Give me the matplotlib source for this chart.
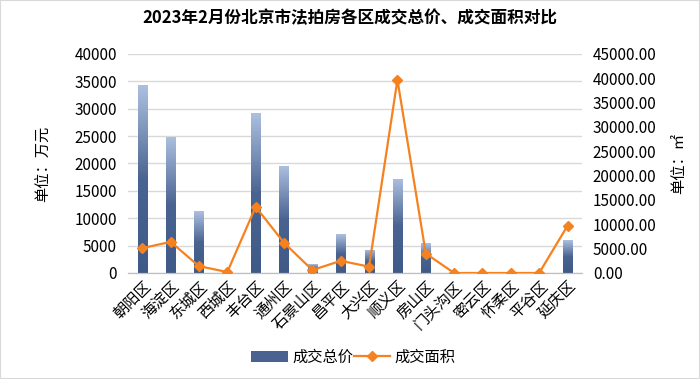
import numpy as np
import matplotlib
matplotlib.use('Agg')
import matplotlib.pyplot as plt
from matplotlib.ticker import FormatStrFormatter
from matplotlib.lines import Line2D
from matplotlib.patches import Patch, Rectangle
from matplotlib.colors import LinearSegmentedColormap

plt.rcParams['font.family'] = ['Noto Sans CJK SC', 'DejaVu Sans']

districts = ['朝阳区', '海淀区', '东城区', '西城区', '丰台区', '通州区', '石景山区', '昌平区',
             '大兴区', '顺义区', '房山区', '门头沟区', '密云区', '怀柔区', '平谷区', '延庆区']
total_price = [34300, 24900, 11300, 250, 29200, 19600, 1600, 7100,
               4200, 17200, 5400, 0, 0, 0, 0, 6000]
total_area = [5100, 6400, 1400, 200, 13600, 6200, 600, 2500,
              1300, 39700, 4000, 0, 0, 0, 0, 9700]

fig = plt.figure(figsize=(7, 3.79), dpi=100)
ax = fig.add_axes([0.183, 0.2797, 0.648, 0.578])
ax2 = ax.twinx()

x = np.arange(len(districts))
bars = ax.bar(x, total_price, width=0.32, color='#4a6290', zorder=2)

# vertical gradient inside each bar: dark lower half, light top
cmap = LinearSegmentedColormap.from_list(
    'bar', [(0, '#3f5a87'), (0.5, '#4a6491'), (1, '#adc0e0')])
grad = np.linspace(0, 1, 256).reshape(-1, 1)
for b in bars:
    if b.get_height() <= 0:
        continue
    bx, by = b.get_x(), b.get_y()
    im = ax.imshow(grad, cmap=cmap, aspect='auto', origin='lower',
                   extent=(bx, bx + b.get_width(), by, by + b.get_height()), zorder=2.5)
    im.set_clip_path(b)
    b.set_alpha(0)

ax.set_xlim(-0.5, len(districts) - 0.5)
ax.set_ylim(0, 40000)
ax.set_yticks(np.arange(0, 40001, 5000))
ax.grid(axis='y', color='#d9d9d9', linewidth=1, zorder=0)
ax.set_axisbelow(True)

ax2.plot(x, total_area, color='#f5821f', linewidth=1.6, marker='D', markersize=5, zorder=3)
ax2.set_ylim(0, 45000)
ax2.set_yticks(np.arange(0, 45001, 5000))
ax2.yaxis.set_major_formatter(FormatStrFormatter('%.2f'))

for a in (ax, ax2):
    for s in ('top', 'left', 'right'):
        a.spines[s].set_visible(False)
    a.spines['bottom'].set_color('#bfbfbf')
    a.tick_params(axis='y', length=0, labelsize=11, colors='black', pad=8)
ax.tick_params(axis='x', length=0)
ax.set_xticks(x)
ax.set_xticklabels(districts, rotation=45, ha='right', rotation_mode='anchor', fontsize=11)

ax.set_ylabel('单位：万元', fontsize=11, labelpad=16)
ax2.set_ylabel('单位：㎡', fontsize=11, labelpad=10)

fig.suptitle('2023年2月份北京市法拍房各区成交总价、成交面积对比', fontsize=12,
             fontweight='bold', y=0.975)

handles = [Patch(facecolor='#4a6290'),
           Line2D([], [], color='#f5821f', marker='D', markersize=5, linewidth=1.6)]
fig.legend(handles, ['成交总价', '成交面积'], loc='center', bbox_to_anchor=(0.505, 0.058),
           ncol=2, frameon=False, fontsize=11, handlelength=2.4, columnspacing=0.0,
           handletextpad=0.3)

fig.patches.append(Rectangle((0, 0), 1, 1, transform=fig.transFigure, fill=False,
                             edgecolor='#d9d9d9', linewidth=1.5))

fig.savefig('out.png', dpi=100)
